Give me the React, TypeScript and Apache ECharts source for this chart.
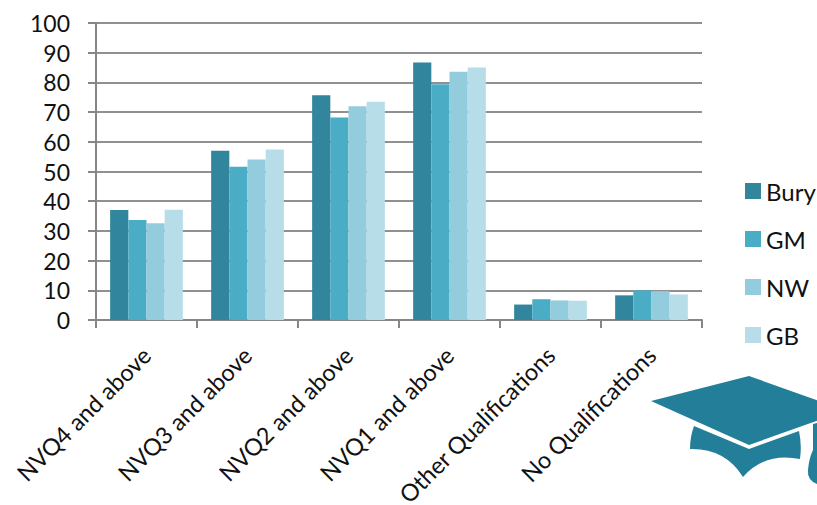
import React, { useEffect, useRef } from "react";
import * as echarts from "echarts";

const categories = ["NVQ4 and above", "NVQ3 and above", "NVQ2 and above", "NVQ1 and above", "Other Qualifications", "No Qualifications"];
const seriesNames = ["Bury", "GM", "NW", "GB"];
const bury = [37, 57, 75.7, 86.7, 5.2, 8.3];
const gm = [33.7, 51.6, 68.2, 79.4, 7, 10];
const nw = [32.6, 54, 72, 83.6, 6.6, 9.7];
const gb = [37.1, 57.4, 73.5, 85, 6.5, 8.6];
const colors = ["#31859c", "#4bacc6", "#93cddd", "#b7dee8"];
const seriesValues = [bury, gm, nw, gb];

const FONT = "Lato";
const capTop = "M651 401 L749 376 L830 405 L830 416 L749 445 Z";
const capBottom = "M694 426 L749 449 L799 431 Q802 445 800 459 Q765 452 743 477 Q725 448 690 449 Q690 437 694 426 Z";
const tassel = "M813 424 L817 423 L817 484 Q807 480 808 470 Q809 458 813 450 Z";
echarts.graphic.registerShape("capTop", echarts.graphic.extendPath(capTop, {}) as any);
echarts.graphic.registerShape("capBottom", echarts.graphic.extendPath(capBottom, {}) as any);
echarts.graphic.registerShape("capTassel", echarts.graphic.extendPath(tassel, {}) as any);

export default function App() {
  const ref = useRef<HTMLDivElement>(null);
  useEffect(() => {
    const chart = echarts.init(ref.current!, undefined, { renderer: "svg" });
    chart.setOption({
      animation: false,
      backgroundColor: "#ffffff",
      textStyle: { fontFamily: FONT },
      grid: { left: 96, top: 23, width: 606, height: 297, containLabel: false, outerBoundsMode: "none" },
      legend: {
        orient: "vertical",
        left: 745,
        top: 179,
        itemWidth: 16,
        itemHeight: 16,
        itemGap: 24,
        padding: 0,
        icon: "rect",
        data: seriesNames,
        selectedMode: false,
        textStyle: { fontFamily: FONT, fontSize: 24, color: "#111", padding: [0, 0, 0, 0] },
      },
      xAxis: {
        type: "category",
        data: categories,
        axisLine: { lineStyle: { color: "#868686", width: 2 } },
        axisTick: { show: true, length: 8, alignWithLabel: false, lineStyle: { color: "#868686", width: 2 } },
        axisLabel: { rotate: 45, interval: 0, margin: 31, fontFamily: FONT, fontSize: 23.5, color: "#111" },
      },
      yAxis: {
        type: "value",
        min: 0,
        max: 100,
        interval: 10,
        axisLine: { show: true, lineStyle: { color: "#868686", width: 2 } },
        axisTick: { show: true, length: 8, lineStyle: { color: "#868686", width: 2 } },
        splitLine: { lineStyle: { color: "#909090", width: 2 } },
        axisLabel: { margin: 26, fontFamily: FONT, fontSize: 23, color: "#111" },
      },
      series: seriesNames.map((name, i) => ({
        name,
        type: "bar",
        data: seriesValues[i],
        barGap: "0%",
        barCategoryGap: "28%",
        itemStyle: { color: colors[i] },
      })),
      graphic: [
        { type: "capTop", x: 0, y: 0, style: { fill: "#237e9a" }, silent: true },
        { type: "capBottom", x: 0, y: 0, style: { fill: "#237e9a" }, silent: true },
        { type: "capTassel", x: 0, y: 0, style: { fill: "#237e9a" }, silent: true },
      ],
    });
    return () => chart.dispose();
  }, []);
  return <div ref={ref} style={{ position: "absolute", left: 0, top: 0, width: 817, height: 505, overflow: "hidden" }} />;
}
